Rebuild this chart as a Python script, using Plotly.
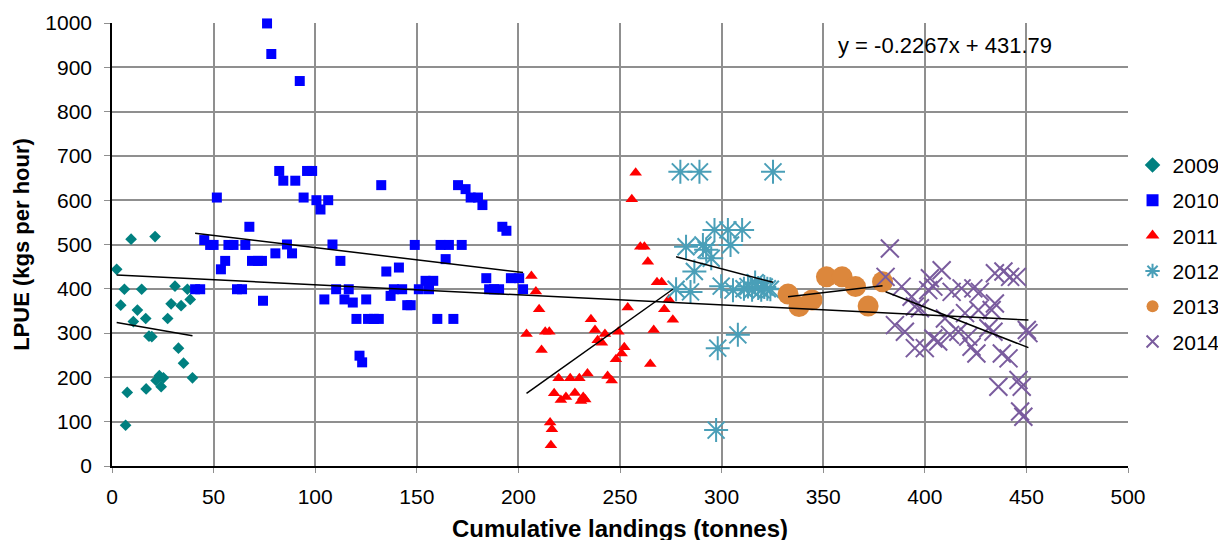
import plotly.graph_objects as go

# ---------------- data ----------------
x2009 = [9.4, 21.2, 2.3, 6.1, 14.6, 31.0, 37.1, 38.5, 4.3, 29.1, 34.0, 12.5, 10.5, 16.6, 27.4,
         18.2, 19.6, 32.7, 35.2, 39.6, 23.3, 25.3, 21.7, 24.2, 16.8, 7.5, 6.7]
y2009 = [512, 518, 444, 399, 399, 406, 399, 376, 363, 366, 362, 352, 326, 333, 333,
         293, 292, 266, 232, 199, 204, 199, 193, 179, 174, 166, 92]

x2010 = [76.3, 78.4, 92.4, 82.3, 84.3, 90.2, 96.0, 98.5, 51.6, 94.3, 100.6, 106.4, 102.6, 132.5,
         67.6, 45.4, 48.3, 50.0, 57.3, 59.8, 65.6, 86.1, 88.6, 80.4, 108.5, 112.4, 55.7, 53.6,
         68.9, 71.8, 73.8, 40.9, 43.4, 61.5, 64.0, 74.3, 110.3, 116.5, 104.5, 114.4, 118.5, 125.1,
         120.3, 126.0, 128.8, 121.8, 123.1, 170.3, 174.0, 176.5, 180.1, 182.3, 192.1, 194.1,
         149.0, 161.7, 165.8, 172.1, 164.2, 135.0, 141.2, 138.7, 142.8, 137.1, 154.3, 158.1,
         151.0, 156.0, 145.3, 147.0, 128.9, 131.3, 160.1, 168.0, 184.2, 196.3, 200.4, 185.6,
         188.0, 190.5, 202.3]
y2010 = [999, 930, 869, 666, 644, 644, 666, 666, 606, 606, 600, 600, 579, 634,
         540, 510, 499, 499, 499, 499, 499, 500, 480, 480, 500, 463, 463, 444,
         463, 463, 463, 399, 399, 399, 399, 373, 399, 399, 376, 376, 369, 376,
         332, 332, 332, 249, 234, 634, 625, 606, 606, 589, 540, 531,
         499, 499, 499, 499, 467, 439, 448, 399, 399, 384, 418, 418,
         399, 399, 363, 363, 332, 332, 332, 332, 424, 424, 424, 399,
         399, 399, 399]

x2011 = [257.7, 255.8, 260.0, 262.0, 263.7, 268.2, 270.5, 274.0, 271.8, 276.0, 266.6, 264.9,
         253.8, 249.2, 252.1, 250.8, 248.0, 235.7, 237.7, 242.6, 239.0, 241.1, 243.9, 245.9,
         234.0, 230.0, 225.5, 219.8, 217.6, 220.9, 223.4, 227.8, 231.9, 230.8, 232.9,
         215.6, 216.5, 216.0, 206.4, 208.6, 210.2, 204.0, 213.2, 215.2, 211.4]
y2011 = [662, 602, 495, 495, 461, 415, 415, 376, 354, 330, 307, 230,
         358, 303, 268, 254, 241, 331, 307, 298, 284, 278, 203, 193,
         209, 198, 198, 198, 164, 149, 156, 165, 156, 147, 150,
         98, 83, 47, 429, 394, 354, 298, 303, 303, 262]

x2012 = [279.7, 289.1, 325.3, 296.5, 303.1, 310.1, 282.5, 290.8, 304.4, 292.4, 294.9, 286.6,
         277.6, 284.7, 299.8, 305.6, 311.0, 313.0, 315.0, 316.5, 318.0, 319.5, 321.0, 322.5,
         324.0, 308.0, 298.1, 297.3]
y2012 = [664, 664, 664, 533, 533, 533, 495, 499, 499, 488, 469, 439,
         399, 393, 406, 397, 400, 405, 398, 414, 402, 398, 404, 400,
         399, 296, 266, 81]

x2013 = [332.7, 338.1, 344.5, 351.6, 359.3, 365.9, 372.1, 379.2]
y2013 = [388, 360, 375, 427, 427, 405, 361, 416]

x2014 = [382.8, 380.7, 388.6, 393.5, 397.6, 395.1, 385.3, 390.2, 395.1, 400.0, 402.5, 408.3,
         401.7, 404.2, 413.2, 418.1, 423.9, 427.1, 409.9, 416.5, 421.4, 412.4, 406.6, 404.2,
         425.4, 423.0, 419.8, 426.4, 432.9, 434.5, 434.5, 438.7, 442.0, 445.3, 431.3, 433.8,
         437.9, 441.2, 436.2, 446.1, 447.7, 450.2, 451.0, 446.9, 448.5]
y2014 = [491, 427, 405, 382, 356, 360, 318, 303, 266, 266, 424, 442,
         397, 405, 393, 401, 401, 393, 333, 303, 292, 296, 281, 288,
         254, 269, 345, 352, 352, 367, 435, 439, 427, 427, 311, 303,
         254, 243, 179, 194, 179, 307, 300, 123, 111]

years = ["2009", "2010", "2011", "2012", "2013", "2014"]
xs = [x2009, x2010, x2011, x2012, x2013, x2014]
ys = [y2009, y2010, y2011, y2012, y2013, y2014]

# linear trend lines per year: slope, intercept (Excel-style trendlines)
trend_slope = [-0.804, -0.548, 3.267, -1.212, 0.534, -1.798]
trend_intercept = [325.9, 547.7, -502.7, 808.9, 204.3, 1078.0]
overall_slope = -0.2267
overall_intercept = 431.79
equation_text = "y = -0.2267x + 431.79"

# ---------------- styles ----------------
colors = ["#008080", "#0000FF", "#FF0000", "#4A9FB8", "#DC873C", "#7A5C9E"]
symbols = ["diamond", "square", "triangle-up", "asterisk-open", "circle", "x-thin-open"]
sizes = [9, 10, 11, 20, 21, 18]

FONT = "Liberation Sans, Arial, sans-serif"
fig = go.Figure()

for i, yr in enumerate(years):
    line_w = 2 if symbols[i] in ("asterisk-open", "x-thin-open") else 0
    fig.add_trace(go.Scatter(
        x=xs[i], y=ys[i], mode="markers", name=yr,
        legendgroup=yr,
        cliponaxis=False,
        marker=dict(symbol=symbols[i], size=sizes[i], color=colors[i],
                    line=dict(width=line_w, color=colors[i])),
    ))

# per-year trend lines
for i, yr in enumerate(years):
    xmin, xmax = min(xs[i]), max(xs[i])
    fig.add_trace(go.Scatter(
        x=[xmin, xmax],
        y=[trend_slope[i] * xmin + trend_intercept[i], trend_slope[i] * xmax + trend_intercept[i]],
        mode="lines", line=dict(color="black", width=1.5), showlegend=False, hoverinfo="skip"))

# overall trend line
allx = [v for arr in xs for v in arr]
ox0, ox1 = min(allx), max(allx)
fig.add_trace(go.Scatter(
    x=[ox0, ox1], y=[overall_slope * ox0 + overall_intercept, overall_slope * ox1 + overall_intercept],
    mode="lines", line=dict(color="black", width=1.5), showlegend=False, hoverinfo="skip"))

fig.add_annotation(x=0.820, y=0.950, xref="paper", yref="paper", text=equation_text,
                   showarrow=False, xanchor="center", yanchor="middle",
                   font=dict(family=FONT, size=22, color="black"))

# page body has an 8px margin: figure offsets compensate for it
fig.update_layout(
    width=1230, height=540,
    margin=dict(l=104, r=110, t=15, b=82),
    paper_bgcolor="white", plot_bgcolor="white",
    font=dict(family=FONT, size=21, color="black"),
    showlegend=True,
    legend=dict(x=1.096, y=0.725, xanchor="right", yanchor="top",
                font=dict(family=FONT, size=21, color="black"),
                itemsizing="constant", tracegroupgap=5,
                bgcolor="rgba(0,0,0,0)"),
    xaxis=dict(range=[0, 500], dtick=50, tick0=0, automargin=False,
               showgrid=True, gridcolor="#8F8F8F", gridwidth=2,
               showline=True, linecolor="black", linewidth=1.5,
               ticks="outside", ticklen=5, tickcolor="#8F8F8F", tickwidth=1,
               zeroline=False, ticklabelstandoff=6,
               tickfont=dict(family=FONT, size=21),
               title=dict(text="<b>Cumulative landings (tonnes)</b>", standoff=13,
                          font=dict(family=FONT, size=24))),
    yaxis=dict(range=[0, 1000], dtick=100, tick0=0, automargin=False,
               showgrid=True, gridcolor="#8F8F8F", gridwidth=2,
               showline=True, linecolor="black", linewidth=1.5,
               ticks="outside", ticklen=6, tickcolor="#8F8F8F", tickwidth=1,
               zeroline=False, ticklabelstandoff=8,
               tickfont=dict(family=FONT, size=21),
               title=dict(text="<b>LPUE (kgs per hour)</b>", standoff=10,
                          font=dict(family=FONT, size=22))),
)

fig.write_html("out.html")
